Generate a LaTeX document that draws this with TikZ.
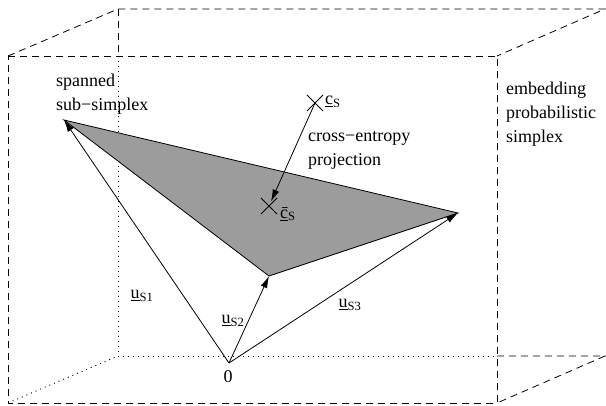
\documentclass[tikz,border=0pt]{standalone}
\usepackage{fontspec}
\setmainfont{Liberation Serif}
\usetikzlibrary{arrows.meta,calc}
\begin{document}
\begin{tikzpicture}[x=1pt,y=-1pt,
  dashedline/.style={line width=0.8pt, dash pattern=on 7pt off 5pt},
  dottedline/.style={line width=0.9pt, dash pattern=on 1pt off 4pt},
  vec/.style={line width=0.8pt, -{Latex[length=12pt,width=7pt]}},
  lbl/.style={font=\fontsize{18}{23}\selectfont, inner sep=1pt},
  txt/.style={font=\fontsize{18}{24}\selectfont, align=left, anchor=west, inner sep=0pt},
  crossmark/.style={line width=0.8pt}]
\useasboundingbox (0,0) rectangle (606,406);
% box corners
\coordinate (FTL) at (8,56);
\coordinate (FTR) at (497,56);
\coordinate (FBL) at (8,403);
\coordinate (FBR) at (497,403);
\coordinate (BTL) at (118,9);
\coordinate (BTR) at (605,9);
\coordinate (BBL) at (118,356);
\coordinate (BBR) at (605,356);
\coordinate (BML) at (118,56);
\coordinate (BMB) at (497,356);
% hidden (dotted) edges
\draw[dottedline] (BML) -- (BBL);
\draw[dottedline] (BBL) -- (BMB);
\draw[dottedline] (FBL) -- (BBL);
% visible (dashed) edges
\draw[dashedline] (FTL) -- (FTR) -- (FBR) -- (FBL) -- cycle;
\draw[dashedline] (FTL) -- (BTL) -- (BTR) -- (FTR);
\draw[dashedline] (BTL) -- (BML);
\draw[dashedline] (BMB) -- (BBR) -- (FBR);
% sub-simplex
\coordinate (A) at (64,120);
\coordinate (B) at (458,213);
\coordinate (C) at (269,276);
\coordinate (O) at (229,363);
\fill[gray!78!white] (A) -- (B) -- (C) -- cycle;
\draw[line width=0.8pt, line join=miter] (A) -- (B) -- (C) -- cycle;
% vectors
\draw[vec] (O) -- (A);
\draw[vec] (O) -- (C);
\draw[vec] (O) -- (B);
\node[lbl] (zero) at (228,377) {0};
\node[lbl] (u1) at (142,296) {\underline{u}\textsubscript{S1}};
\node[lbl] (u2) at (233,321) {\underline{u}\textsubscript{S2}};
\node[lbl] (u3) at (350,305) {\underline{u}\textsubscript{S3}};
% crosses
\coordinate (cs) at (315,103);
\coordinate (cbs) at (269,206);
\draw[crossmark] ($(cs)+(-8,-8)$) -- ($(cs)+(8,8)$);
\draw[crossmark] ($(cs)+(-8,8)$) -- ($(cs)+(8,-8)$);
\draw[crossmark] ($(cbs)+(-8,-8)$) -- ($(cbs)+(8,8)$);
\draw[crossmark] ($(cbs)+(-8,8)$) -- ($(cbs)+(8,-8)$);
\draw[vec, shorten >=5pt] (cs) -- (cbs);
\node[lbl, anchor=west] (cslbl) at (324,102) {\underline{c}\textsubscript{S}};
\node[lbl, anchor=west] (cbslbl) at (279,214) {\underline{\=c}\textsubscript{S}};
% texts
\node[txt] (span) at (56,94) {spanned\\sub−simplex};
\node[txt] (proj) at (308,150) {cross−entropy\\projection};
\node[txt] (emb) at (506,114) {embedding\\probabilistic\\simplex};
\end{tikzpicture}
\end{document}
